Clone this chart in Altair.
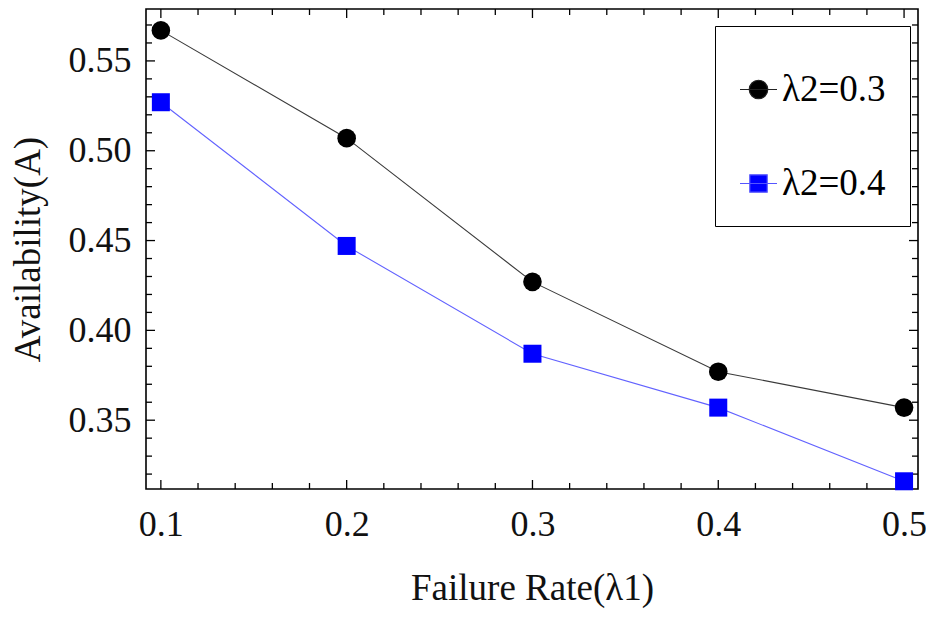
import altair as alt
import pandas as pd

failure_rate = [0.1, 0.2, 0.3, 0.4, 0.5]
avail_l2_03 = [0.567, 0.507, 0.427, 0.377, 0.357]
avail_l2_04 = [0.527, 0.447, 0.387, 0.357, 0.316]
series_names = ["λ2=0.3", "λ2=0.4"]

x_major = [0.1, 0.2, 0.3, 0.4, 0.5]
x_minor = [0.12, 0.14, 0.16, 0.18, 0.22, 0.24, 0.26, 0.28, 0.32, 0.34, 0.36, 0.38,
           0.42, 0.44, 0.46, 0.48]
y_major = [0.35, 0.40, 0.45, 0.50, 0.55]
y_minor = [0.32, 0.33, 0.34, 0.36, 0.37, 0.38, 0.39, 0.41, 0.42, 0.43, 0.44, 0.46,
           0.47, 0.48, 0.49, 0.51, 0.52, 0.53, 0.54, 0.56, 0.57]

df = pd.DataFrame({
    "x": failure_rate * 2,
    "y": avail_l2_03 + avail_l2_04,
    "series": [series_names[0]] * 5 + [series_names[1]] * 5,
})

W, H = 772, 480
FONT = "Liberation Serif"

xscale = alt.Scale(domain=[0.092, 0.5075], nice=False, zero=False)
yscale = alt.Scale(domain=[0.3117, 0.5789], nice=False, zero=False)
xaxis = alt.Axis(title="Failure Rate(λ1)", values=x_major, format=".1f", tickSize=0,
                 domain=False, grid=False, labelPadding=18, titlePadding=28)
yaxis = alt.Axis(title="Availability(A)", values=y_major, format=".2f", tickSize=0,
                 domain=False, grid=False, labelPadding=15, titlePadding=21)
X = alt.X("x:Q", scale=xscale, axis=xaxis)
Y = alt.Y("y:Q", scale=yscale, axis=yaxis)

base = alt.Chart(df)
s1 = base.transform_filter(alt.datum.series == series_names[0])
s2 = base.transform_filter(alt.datum.series == series_names[1])

line1 = s1.mark_line(strokeWidth=1.1, color="#3a3a3a").encode(x=X, y=Y)
line2 = s2.mark_line(strokeWidth=1.1, color="#6262ff").encode(x=X, y=Y)
circles = s1.mark_point(shape="circle", filled=True, size=346, color="black",
                        opacity=1).encode(x=X, y=Y)
squares = s2.mark_point(shape="square", filled=True, size=324, color="#0000ff",
                        opacity=1).encode(x=X, y=Y)

circle_path = "M-1,0H1M0.5,0A0.5,0.5,0,1,1,-0.5,0A0.5,0.5,0,1,1,0.5,0Z"
square_path = "M-1,0H1M-0.47,-0.47H0.47V0.47H-0.47Z"

leg = alt.Legend(title=" ", titleFontSize=8, titlePadding=12, orient="none",
                 legendX=569, legendY=17, strokeColor="black", padding=24,
                 fillColor="white", symbolSize=1369, symbolOpacity=1,
                 symbolStrokeWidth=1.2, labelFont=FONT, labelFontSize=37,
                 labelColor="black", labelOffset=4, rowPadding=56,
                 labelLimit=400)

legend_layer = base.mark_point(filled=True, opacity=0).encode(
    x=X, y=Y,
    shape=alt.Shape("series:N", scale=alt.Scale(domain=series_names,
                                                range=[circle_path, square_path]), legend=leg),
    color=alt.Color("series:N", scale=alt.Scale(domain=series_names,
                                                range=["black", "#0000ff"]), legend=leg),
    stroke=alt.Stroke("series:N", scale=alt.Scale(domain=series_names,
                                                  range=["#222222", "#5555ff"]), legend=leg),
)

def xticks(vals, length, top):
    d = pd.DataFrame({"x": vals})
    if top:
        return alt.Chart(d).mark_rule(color="black", strokeWidth=1.3).encode(
            x=X, y=alt.value(0), y2=alt.value(length))
    return alt.Chart(d).mark_rule(color="black", strokeWidth=1.3).encode(
        x=X, y=alt.value(H), y2=alt.value(H - length))

def yticks(vals, length, right):
    d = pd.DataFrame({"y": vals})
    if right:
        return alt.Chart(d).mark_rule(color="black", strokeWidth=1.3).encode(
            y=Y, x=alt.value(W), x2=alt.value(W - length))
    return alt.Chart(d).mark_rule(color="black", strokeWidth=1.3).encode(
        y=Y, x=alt.value(0), x2=alt.value(length))

ticks = [
    xticks(x_major, 9, False), xticks(x_minor, 6, False),
    xticks(x_major, 9, True), xticks(x_minor, 6, True),
    yticks(y_major, 9, False), yticks(y_minor, 6, False),
    yticks(y_major, 9, True), yticks(y_minor, 6, True),
]

chart = alt.layer(*ticks, line1, line2, circles, squares, legend_layer).properties(
    width=W, height=H,
    autosize=alt.AutoSizeParams(type="none"),
    padding={"left": 138, "top": 1, "right": 8, "bottom": 122},
).configure_view(stroke="black", strokeWidth=1.6).configure_axis(
    labelFont=FONT, labelFontSize=36, labelColor="#111111",
    titleFont=FONT, titleFontSize=37, titleFontWeight="normal", titleColor="#111111",
).configure_legend(titleFont=FONT)

chart.save("out.html", embed_options={"renderer": "svg", "actions": False})
